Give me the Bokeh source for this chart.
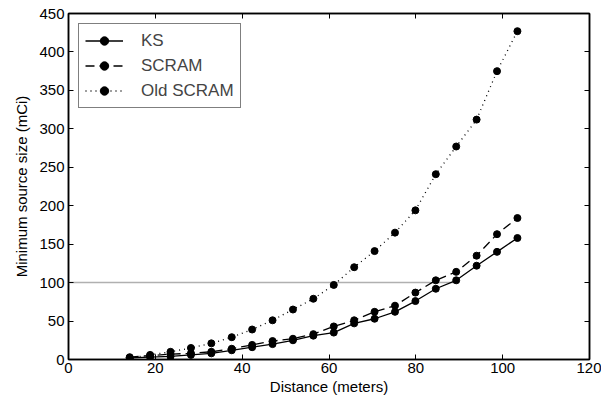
from bokeh.plotting import figure
from bokeh.models import Range1d, LinearAxis, FixedTicker, Legend, LegendItem
from bokeh.embed import file_html
from bokeh.resources import INLINE

distance = [14.1, 18.8, 23.5, 28.2, 32.9, 37.6, 42.3, 47.0, 51.7, 56.4,
            61.1, 65.8, 70.5, 75.2, 79.9, 84.6, 89.3, 94.0, 98.7, 103.4]
ks = [2, 3, 4, 6, 8, 12, 16, 20, 25, 31, 35, 47, 53, 62, 76, 92, 103, 122, 140, 158]
scram = [3, 5, 7, 8, 10, 14, 19, 24, 27, 33, 43, 51, 62, 70, 87, 103, 114, 135, 163, 184]
old_scram = [2, 6, 10, 15, 21, 29, 39, 51, 65, 79, 97, 120, 141, 165, 194, 241, 277, 312, 375, 427]
threshold_x = [0, 90]
threshold_y = [100, 100]
x_ticks = [0, 20, 40, 60, 80, 100, 120]
y_ticks = [0, 50, 100, 150, 200, 250, 300, 350, 400, 450]

FONT = "Liberation Sans"

p = figure(width=601, height=400, output_backend="svg", toolbar_location=None,
           x_range=Range1d(0, 120), y_range=Range1d(0, 450),
           min_border_left=68, min_border_top=13, min_border_right=12, min_border_bottom=41)
p.background_fill_color = "white"
p.border_fill_color = "white"
p.outline_line_color = "black"
p.outline_line_width = 1.5
p.xgrid.visible = False
p.ygrid.visible = False

def style_axis(ax, show_labels=True):
    ax.major_tick_in = 5
    ax.major_tick_out = 0
    ax.minor_tick_in = 0
    ax.minor_tick_out = 0
    ax.axis_line_color = "black"
    ax.axis_line_width = 1.5
    ax.major_tick_line_color = "black"
    ax.major_label_text_font = FONT
    ax.major_label_text_font_size = "15px"
    ax.major_label_text_color = "black"
    ax.axis_label_text_font = FONT
    ax.axis_label_text_font_size = "15px"
    ax.axis_label_text_font_style = "normal"
    ax.axis_label_text_color = "black"
    if not show_labels:
        ax.major_label_text_font_size = "0px"
        ax.major_label_text_alpha = 0

p.xaxis.ticker = FixedTicker(ticks=x_ticks)
p.yaxis.ticker = FixedTicker(ticks=y_ticks)
p.xaxis.axis_label = "Distance (meters)"
p.yaxis.axis_label = "Minimum source size (mCi)"
style_axis(p.xaxis[0])
style_axis(p.yaxis[0])
p.xaxis.major_label_standoff = 3
p.yaxis.major_label_standoff = 4
p.xaxis.axis_label_standoff = 2
p.yaxis.axis_label_standoff = 6

top = LinearAxis(ticker=FixedTicker(ticks=x_ticks))
right = LinearAxis(ticker=FixedTicker(ticks=y_ticks))
style_axis(top, False)
style_axis(right, False)
top.major_label_standoff = 0
right.major_label_standoff = 0
p.add_layout(top, "above")
p.add_layout(right, "right")

p.line(threshold_x, threshold_y, line_color="#b0b0b0", line_width=1.5)

l1 = p.line(distance, ks, line_color="black", line_width=1.3)
s1 = p.scatter(distance, ks, size=7, color="black")
l2 = p.line(distance, scram, line_color="black", line_width=1.3, line_dash="9 5")
s2 = p.scatter(distance, scram, size=7, color="black")
l3 = p.line(distance, old_scram, line_color="black", line_width=1.3, line_dash="1 4")
s3 = p.scatter(distance, old_scram, size=7, color="black")

legend = Legend(items=[
    LegendItem(label="KS", renderers=[l1, s1]),
    LegendItem(label="SCRAM", renderers=[l2, s2]),
    LegendItem(label="Old SCRAM", renderers=[l3, s3]),
], location="top_left")
legend.label_text_font = FONT
legend.label_text_font_size = "17px"
legend.border_line_color = "black"
legend.border_line_width = 1.3
legend.border_radius = 0
legend.background_fill_alpha = 1
legend.margin = 10
legend.padding = 6
legend.spacing = 4
legend.glyph_width = 38
legend.label_standoff = 18
legend.label_height = 21
legend.glyph_height = 21
p.add_layout(legend)

open("out.html", "w").write(file_html(p, INLINE))
